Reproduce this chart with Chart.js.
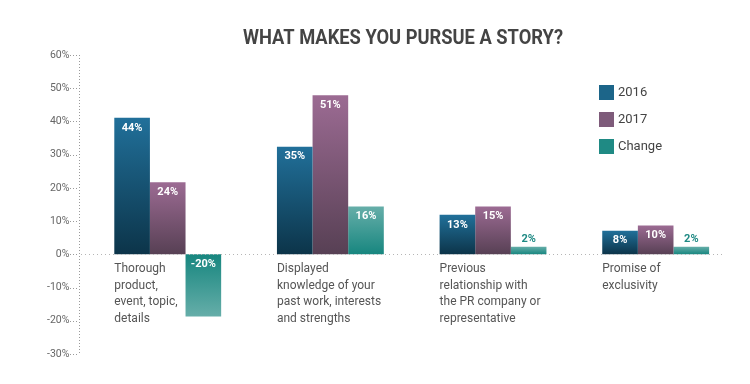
<!DOCTYPE html>
<html>
<head>
<meta charset="utf-8">
<script src="https://cdn.jsdelivr.net/npm/chart.js@4/dist/chart.umd.min.js"></script>
<style>
  html, body { margin: 0; padding: 0; background: #ffffff; }
  #wrap { width: 750px; height: 384px; }
</style>
</head>
<body>
<div id="wrap"><canvas id="c" width="750" height="384"></canvas></div>
<script>
const titleText = 'WHAT MAKES YOU PURSUE A STORY?';
const categories = [
  ['Thorough', 'product,', 'event, topic,', 'details'],
  ['Displayed', 'knowledge of your', 'past work, interests', 'and strengths'],
  ['Previous', 'relationship with', 'the PR company or', 'representative'],
  ['Promise of', 'exclusivity']
];
const seriesNames = ['2016', '2017', 'Change'];
// bar heights as drawn against the axis
const values2016 = [41.1, 32.4, 11.9, 7.1];
const values2017 = [21.7, 47.9, 14.4, 8.7];
const valuesChange = [-18.7, 14.4, 2.3, 2.3];
// value labels printed on the bars
const labels2016 = ['44%', '35%', '13%', '8%'];
const labels2017 = ['24%', '51%', '15%', '10%'];
const labelsChange = ['-20%', '16%', '2%', '2%'];
const yTicks = [-30, -20, -10, 0, 10, 20, 30, 40, 50, 60];

const palette = [
  { light: '#21709a', dark: '#0c3449', legend: '#1c6589' },
  { light: '#9c6b93', dark: '#574054', legend: '#7e5b7a' },
  { light: '#66aea9', dark: '#17867f', legend: '#1f8a84' }
];
const valueLabels = [labels2016, labels2017, labelsChange];

function gradFor(i) {
  return function (ctx) {
    const chart = ctx.chart;
    const y = chart.scales && chart.scales.y;
    if (!chart.chartArea || !y || ctx.raw === undefined) return palette[i].legend;
    const y0 = y.getPixelForValue(0);
    const y1 = y.getPixelForValue(ctx.raw);
    if (Math.abs(y1 - y0) < 1) return palette[i].legend;
    const g = chart.ctx.createLinearGradient(0, y0, 0, y1);
    g.addColorStop(0, palette[i].dark);
    g.addColorStop(1, palette[i].light);
    return g;
  };
}

const overlay = {
  id: 'overlay',
  afterDraw(chart) {
    const ctx = chart.ctx;
    const ys = chart.scales.y;
    const area = chart.chartArea;
    const axisX = 79;
    ctx.save();
    // y axis dotted line + tick dashes
    ctx.strokeStyle = '#9a9a9a';
    ctx.lineWidth = 1;
    ctx.setLineDash([1, 2]);
    ctx.beginPath();
    ctx.moveTo(axisX + 0.5, ys.getPixelForValue(60));
    ctx.lineTo(axisX + 0.5, ys.getPixelForValue(-30));
    ctx.stroke();
    yTicks.forEach(v => {
      const py = Math.round(ys.getPixelForValue(v)) + 0.5;
      ctx.beginPath();
      ctx.moveTo(70, py);
      ctx.lineTo(axisX, py);
      ctx.stroke();
    });
    // zero line
    const z = Math.round(ys.getPixelForValue(0)) + 0.5;
    ctx.strokeStyle = '#b5b5b5';
    ctx.setLineDash([1, 3]);
    ctx.beginPath();
    ctx.moveTo(axisX + 2, z);
    ctx.lineTo(723, z);
    ctx.stroke();
    ctx.setLineDash([]);

    // value labels
    ctx.font = 'bold 11px Roboto';
    ctx.textAlign = 'center';
    ctx.textBaseline = 'middle';
    chart.data.datasets.forEach((ds, di) => {
      const meta = chart.getDatasetMeta(di);
      meta.data.forEach((bar, i) => {
        const v = ds.data[i];
        const zero = ys.getPixelForValue(0);
        const h = Math.abs(bar.y - zero);
        let ty, col;
        if (h < 18) {
          ty = bar.y - 7.5;
          col = palette[di].legend;
        } else if (v >= 0) {
          ty = bar.y + 10;
          col = '#ffffff';
        } else {
          ty = zero + 10;
          col = '#ffffff';
        }
        ctx.fillStyle = col;
        ctx.fillText(valueLabels[di][i], bar.x, ty);
      });
    });

    // category labels under the zero line, left aligned to group start
    const meta0 = chart.getDatasetMeta(0);
    ctx.font = '12px Roboto';
    ctx.fillStyle = '#555555';
    ctx.textAlign = 'left';
    ctx.textBaseline = 'alphabetic';
    chart.data.labels.forEach((lines, i) => {
      const b = meta0.data[i];
      const left = b.x - b.width / 2;
      lines.forEach((ln, k) => {
        ctx.fillText(ln, left, 272 + k * 16.7);
      });
    });

    // legend
    ctx.font = '13px Roboto';
    ctx.textBaseline = 'middle';
    seriesNames.forEach((nm, i) => {
      const y = 85 + i * 27;
      ctx.fillStyle = palette[i].legend;
      ctx.fillRect(599, y, 15, 15);
      ctx.fillStyle = '#444444';
      ctx.fillText(nm, 618, y + 8);
    });

    // title
    ctx.font = 'bold 20px Roboto';
    ctx.fillStyle = '#444444';
    ctx.textAlign = 'center';
    ctx.textBaseline = 'middle';
    const w = ctx.measureText(titleText).width;
    const sx = 320 / w;
    ctx.translate(403, 39);
    ctx.scale(sx, 1);
    ctx.fillText(titleText, 0, 0);
    ctx.restore();
  }
};

const datasets = [values2016, values2017, valuesChange].map((arr, i) => ({
  label: seriesNames[i],
  data: arr,
  backgroundColor: gradFor(i),
  borderWidth: 0,
  categoryPercentage: 0.657,
  barPercentage: 1.0
}));

new Chart(document.getElementById('c'), {
  type: 'bar',
  data: { labels: categories, datasets: datasets },
  options: {
    responsive: false,
    animation: false,
    devicePixelRatio: 1,
    layout: { padding: { left: 0, top: 55, right: 13, bottom: 30 } },
    plugins: { legend: { display: false }, title: { display: false }, tooltip: { enabled: false } },
    scales: {
      x: {
        display: false,
        offset: true,
        grid: { display: false }
      },
      y: {
        min: -30,
        max: 60,
        afterFit(scale) { scale.width = 86.4; },
        grid: { display: false, drawTicks: false },
        border: { display: false },
        ticks: {
          stepSize: 10,
          padding: 17,
          color: '#666666',
          font: { family: 'Roboto', size: 10.5 },
          callback: v => v + '%'
        }
      }
    }
  },
  plugins: [overlay]
});
</script>
</body>
</html>
